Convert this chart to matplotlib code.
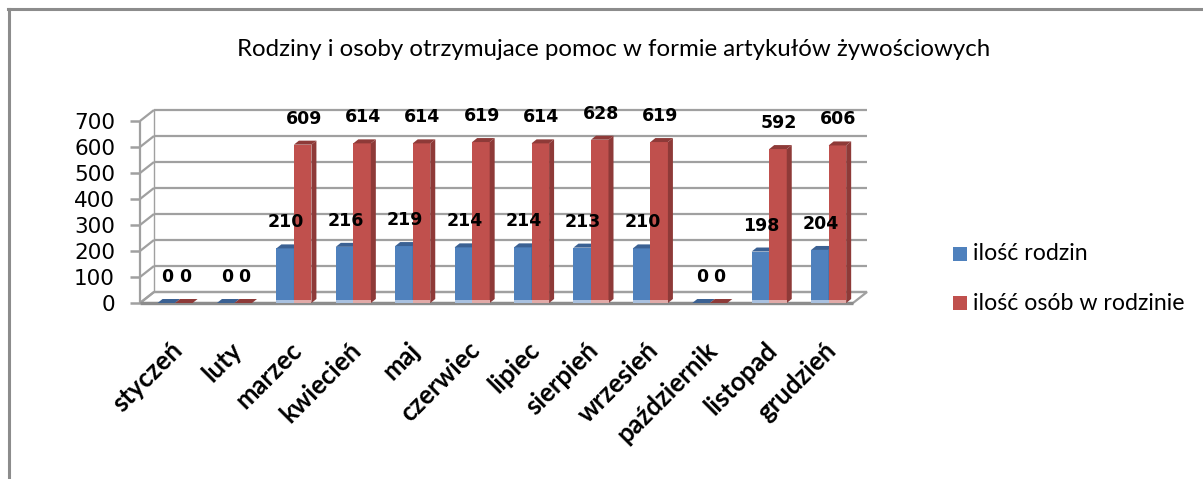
import matplotlib
matplotlib.use("Agg")
import matplotlib.pyplot as plt
from matplotlib.patches import Polygon, Rectangle
from matplotlib.lines import Line2D
from matplotlib.transforms import IdentityTransform
import numpy as np

# ---------- data ----------
months = ["styczeń", "luty", "marzec", "kwiecień", "maj", "czerwiec",
          "lipiec", "sierpień", "wrzesień", "październik", "listopad", "grudzień"]
families = [0, 0, 210, 216, 219, 214, 214, 213, 210, 0, 198, 204]
persons = [0, 0, 609, 614, 614, 619, 614, 628, 619, 0, 592, 606]
series_names = ["ilość rodzin", "ilość osób w rodzinie"]
yticks = [0, 100, 200, 300, 400, 500, 600, 700]
title = "Rodziny i osoby otrzymujace pomoc w formie artykułów żywościowych"

# ---------- style ----------
W, H, DPI = 1203, 479, 100
BLUE, BLUE_DARK, BLUE_LIGHT = "#4F81BD", "#3B6193", "#A9C1E0"
RED, RED_DARK, RED_LIGHT = "#C0504D", "#8E3A38", "#E2AAA8"
GRID = "#A0A0A0"
WALL_D = np.array([14, 11])   # depth of the back wall, px
BAR_D = np.array([5, 4])      # depth of the bars, px
PX = IdentityTransform()

fig = plt.figure(figsize=(W / DPI, H / DPI), dpi=DPI)
fig.patch.set_facecolor("white")

# plot area (front plane) in pixel terms
ax_l, ax_r, ax_t, ax_b = 140, 853, 121, 303
ax = fig.add_axes([ax_l / W, 1 - ax_b / H, (ax_r - ax_l) / W, (ax_b - ax_t) / H])
ax.set_xlim(-0.5, len(months) - 0.5)
ax.set_ylim(0, 700)
ax.patch.set_alpha(0)
for s in ax.spines.values():
    s.set_visible(False)
ax.set_xticks([])
ax.set_yticks(yticks)
ax.tick_params(axis="y", length=7, width=1.8, color=GRID, pad=11,
               labelsize=15.5, labelcolor="black")


def to_px(x, y):
    return ax.transData.transform((x, y))


def line_px(p, q, lw=1.6, color=GRID, z=1):
    ax.add_line(Line2D([p[0], q[0]], [p[1], q[1]], transform=PX, clip_on=False,
                       color=color, lw=lw, zorder=z, solid_capstyle="butt"))


x0, x1 = ax.get_xlim()

# ---------- 3D frame: floor, side wall, back wall grid ----------
fl = [to_px(x0, 0), to_px(x1, 0), to_px(x1, 0) + WALL_D, to_px(x0, 0) + WALL_D]
ax.add_patch(Polygon(fl, closed=True, transform=PX, facecolor="white",
                     edgecolor=GRID, lw=1.6, zorder=0.5, clip_on=False))
for v in yticks:
    line_px(to_px(x0, v) + WALL_D, to_px(x1, v) + WALL_D)
    line_px(to_px(x0, v), to_px(x0, v) + WALL_D)
line_px(to_px(x0, 0), to_px(x0, 700))
line_px(to_px(x0, 0) + WALL_D, to_px(x0, 700) + WALL_D, lw=1.0)
line_px(to_px(x0, 0), to_px(x1, 0), lw=2.4, color="#8C8C8C", z=2)

# ---------- bars ----------
x = np.arange(len(months))
bw = 0.295
shift = 0.09
b1 = ax.bar(x + shift - bw / 2, families, bw, color=BLUE, zorder=3)
b2 = ax.bar(x + shift + bw / 2, persons, bw, color=RED, zorder=3.2)


def add_depth(bars, dark, light, z):
    for p in bars:
        bb = p.get_window_extent()
        xa, ya, xb, yb = bb.x0, bb.y0, bb.x1, bb.y1
        side = [(xb, ya), (xb + BAR_D[0], ya + BAR_D[1]),
                (xb + BAR_D[0], yb + BAR_D[1]), (xb, yb)]
        top = [(xa, yb), (xb, yb), (xb + BAR_D[0], yb + BAR_D[1]),
               (xa + BAR_D[0], yb + BAR_D[1])]
        ax.add_patch(Polygon(side, closed=True, transform=PX, facecolor=dark,
                             edgecolor="none", zorder=z, clip_on=False))
        ax.add_patch(Polygon(top, closed=True, transform=PX, facecolor=dark,
                             edgecolor="none", zorder=z, clip_on=False))
        if yb - ya > 3:
            ax.add_patch(Rectangle((xa, ya), xb - xa, 3, transform=PX,
                                   facecolor=light, edgecolor="none",
                                   zorder=z, clip_on=False))


fig.canvas.draw()
add_depth(b1, BLUE_DARK, BLUE_LIGHT, 3.1)
add_depth(b2, RED_DARK, RED_LIGHT, 3.3)

# data labels
for bars, vals in ((b1, families), (b2, persons)):
    for p, v in zip(bars, vals):
        ax.annotate(str(v), (p.get_x() + p.get_width() / 2, v),
                    xytext=(1, 26), textcoords="offset pixels",
                    ha="center", va="center", fontsize=12.5,
                    fontweight="bold", family="DejaVu Sans", zorder=5,
                    annotation_clip=False)

# category labels
for i, m in enumerate(months):
    ax.annotate(m, (i, 0), xytext=(9, -43), textcoords="offset pixels",
                rotation=45, rotation_mode="anchor", ha="right", va="center",
                fontsize=18.5, fontweight="bold", family="Lato",
                annotation_clip=False)

# ---------- legend ----------
for name, col, yc in zip(series_names, (BLUE, RED), (254, 303)):
    fig.add_artist(Rectangle((953, H - yc - 7), 14, 14, transform=PX,
                             facecolor=col, edgecolor="none"))
    fig.text(973 / W, 1 - yc / H, name, ha="left", va="center",
             fontsize=16.7, family="Lato")

# ---------- title ----------
fig.text(614 / W, 1 - 50 / H, title, ha="center", va="center",
         fontsize=17.3, family="Lato")

# ---------- outer border (left and top only visible) ----------
fig.add_artist(Line2D([9, 9], [0, H - 9], transform=PX, lw=2.2,
                      color="#8C8C8C"))
fig.add_artist(Line2D([8, W], [H - 9, H - 9], transform=PX, lw=2.2,
                      color="#8C8C8C"))

fig.savefig("out.png", dpi=DPI)
plt.close(fig)
